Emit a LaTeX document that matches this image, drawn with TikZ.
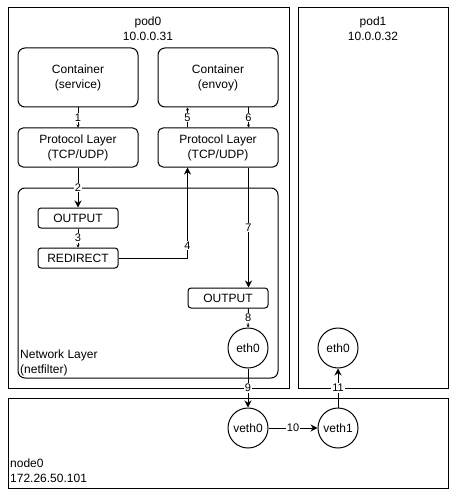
\documentclass[tikz,border=0pt]{standalone}
\usepackage{fontspec}
\setmainfont{Liberation Sans}
\usetikzlibrary{arrows.meta}

\tikzset{
  every node/.style={font=\fontsize{12}{15}\selectfont},
  layer/.style={draw, line width=1pt, rounded corners=7pt, align=center, minimum width=120pt},
  chain/.style={draw, line width=1pt, rounded corners=3pt, minimum width=80pt, minimum height=20pt, inner sep=0pt},
  iface/.style={draw, line width=1pt, circle, minimum size=40pt, inner sep=0pt},
  lbl/.style={fill=white, inner sep=1pt, font=\fontsize{11}{13}\selectfont},
  big/.style={line width=1pt, -{Stealth[length=7pt,width=7pt]}},
  small/.style={line width=1pt, -{Stealth[length=3pt,width=3pt]}}
}

\begin{document}
\begin{tikzpicture}[x=1pt,y=-1pt]
\useasboundingbox (0,0) rectangle (457,497);
\draw[line width=1pt] (8,8) rectangle (289,388);
\draw[line width=1pt] (298,8) rectangle (448,388);
\draw[line width=1pt] (8,398) rectangle (448,488);
\draw[line width=1pt, rounded corners=7pt] (18,188) rectangle (278,378);

\node[align=center] (pod0) at (148,29) {pod0\\10.0.0.31};
\node[align=center] (pod1) at (373,29) {pod1\\10.0.0.32};
\node[align=left, anchor=north west, inner sep=0pt] (netlayer) at (20,350) {Network Layer\\(netfilter)};
\node[align=left, anchor=north west, inner sep=0pt] (node0) at (10,459) {node0\\172.26.50.101};

\node[layer, minimum height=59pt] (svc) at (78,77.5) {Container\\(service)};
\node[layer, minimum height=59pt] (envoy) at (218,77.5) {Container\\(envoy)};
\node[layer, minimum height=39pt, rounded corners=5pt] (tcpa) at (78,147.5) {Protocol Layer\\(TCP/UDP)};
\node[layer, minimum height=39pt, rounded corners=5pt] (tcpb) at (218,147.5) {Protocol Layer\\(TCP/UDP)};

\node[chain] (outa) at (78,218) {OUTPUT};
\node[chain] (redir) at (78,258) {REDIRECT};
\node[chain] (outb) at (228,298) {OUTPUT};

\node[iface] (eth0a) at (248,348) {eth0};
\node[iface] (eth0b) at (338,348) {eth0};
\node[iface] (veth0) at (248,428) {veth0};
\node[iface] (veth1) at (338,428) {veth1};

\draw[small] (svc) -- node[lbl]{1} (tcpa);
\draw[big] (tcpa) -- node[lbl]{2} (outa);
\draw[small] (outa) -- node[lbl]{3} (redir);
\draw[big] (redir.east) -| node[lbl, pos=0.57]{4} ([xshift=30pt]tcpb.south west);
\draw[small] ([xshift=30pt]tcpb.north west) -- node[lbl]{5} ([xshift=30pt]envoy.south west);
\draw[small] ([xshift=-30pt]envoy.south east) -- node[lbl]{6} ([xshift=-30pt]tcpb.north east);
\draw[big] ([xshift=-30pt]tcpb.south east) -- node[lbl]{7} ([xshift=-20pt]outb.north east);
\draw[small] ([xshift=-20pt]outb.south east) -- node[lbl]{8} (eth0a.north);
\draw[big] (eth0a) -- node[lbl]{9} (veth0);
\draw[big] (veth0) -- node[lbl]{10} (veth1);
\draw[big] (veth1) -- node[lbl]{11} (eth0b);
\end{tikzpicture}
\end{document}
